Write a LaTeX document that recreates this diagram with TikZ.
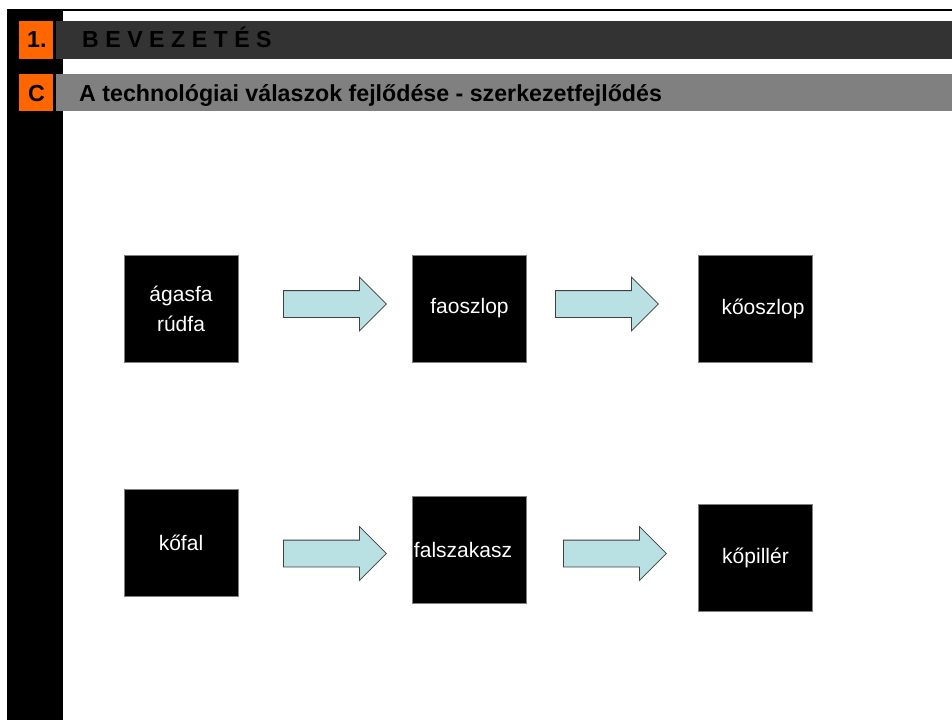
\documentclass[tikz,border=0pt]{standalone}
\usepackage{fontspec}
\setmainfont{Liberation Sans}
\usetikzlibrary{shapes.arrows}

\definecolor{headorange}{RGB}{255,102,0}
\definecolor{headdark}{RGB}{51,51,51}
\definecolor{headgray}{RGB}{128,128,128}
\definecolor{arrowfill}{RGB}{185,224,227}
\definecolor{arrowline}{RGB}{64,64,64}

\tikzset{
    stage/.style={draw=headgray, line width=0.6pt, fill=black, text=white,
        minimum width=114pt, minimum height=107pt, inner sep=0pt, align=center,
        font=\fontsize{21}{30}\selectfont},
    blockarrow/.style={single arrow, draw=arrowline, fill=arrowfill, line width=0.8pt,
        minimum height=103pt, inner xsep=0pt, inner ysep=13pt,
        single arrow head extend=13.5pt, anchor=tail},
    headtext/.style={anchor=base west, inner sep=0pt, text=black,
        font=\fontsize{23.2}{27}\selectfont\bfseries}
}

\begin{document}
\begin{tikzpicture}[x=1pt, y=-1pt]
    \useasboundingbox[fill=white] (0,0) rectangle (952,720);

    % header
    \draw[line width=2pt] (7,10) -- (952,10);
    \fill[black] (7,10) rectangle (63,720);
    \fill[headdark] (56,21) rectangle (952,59);
    \fill[headgray] (56,74) rectangle (952,111);
    \fill[headorange] (19,21) rectangle (53,59);
    \fill[headorange] (19,74) rectangle (53,111);
    \node[headtext] at (27,47)(num){1.};
    \node[headtext] at (82,47)(chapter){B E V E Z E T É S};
    \node[headtext] at (28,101)(letter){C};
    \node[headtext] at (79,101)(title){A technológiai válaszok fejlődése - szerkezetfejlődés};

    % elements
    \node[stage] at (181, 308.5)(agasfa){ágasfa\\rúdfa};
    \node[stage] at (469.5, 308.5)(faoszlop){faoszlop};
    \node[stage] at (755.5, 308.5)(kooszlop){\hspace*{15pt}kőoszlop};
    \node[stage] at (181, 543)(kofal){kőfal};
    \node[stage] at (469.5, 550)(falszakasz){falszakasz\hspace*{13pt}};
    \node[stage] at (755.5, 558)(kopiller){kőpillér};

    % block arrows
    \node[blockarrow] at (283, 304)(a1){};
    \node[blockarrow] at (555, 304)(a2){};
    \node[blockarrow] at (283, 553.5)(a3){};
    \node[blockarrow] at (563, 553.5)(a4){};
\end{tikzpicture}
\end{document}
